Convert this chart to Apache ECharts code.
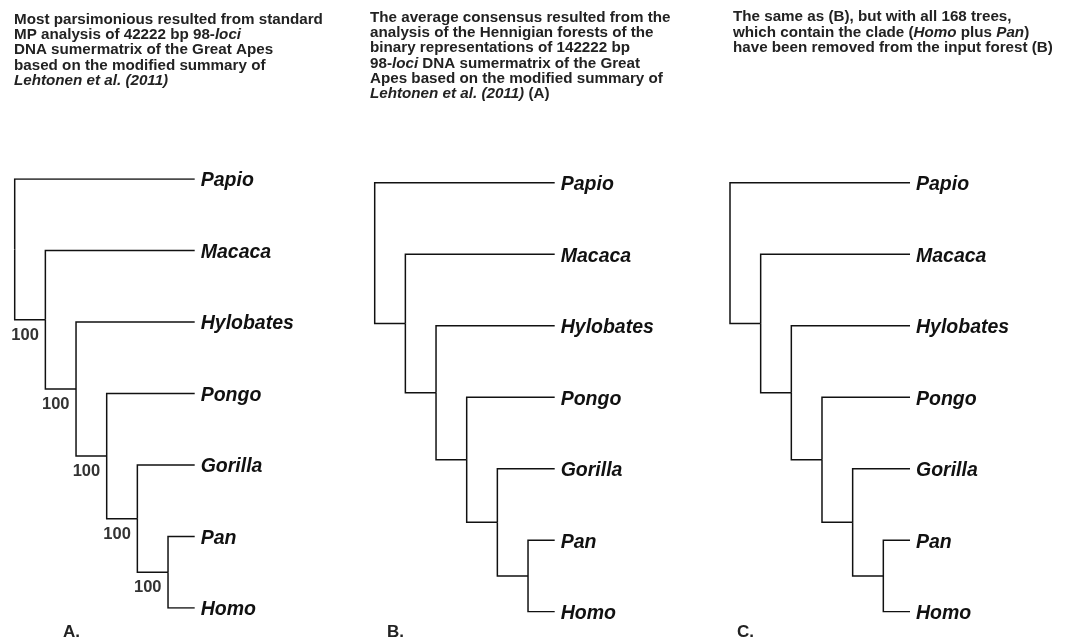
<!DOCTYPE html>
<html><head><meta charset="utf-8">
<script src="https://cdn.jsdelivr.net/npm/echarts@6/dist/echarts.min.js"></script>
<style>html,body{margin:0;padding:0;background:#fff}#c{width:1070px;height:641px}</style>
</head><body><div id="c"></div>
<script>
// ---- data ----
const taxa = ['Papio','Macaca','Hylobates','Pongo','Gorilla','Pan','Homo'];
// tree topologies (nested clades), identical for the three panels
const topologyA = ['Papio',['Macaca',['Hylobates',['Pongo',['Gorilla',['Pan','Homo']]]]]];
const topologyB = ['Papio',['Macaca',['Hylobates',['Pongo',['Gorilla',['Pan','Homo']]]]]];
const topologyC = ['Papio',['Macaca',['Hylobates',['Pongo',['Gorilla',['Pan','Homo']]]]]];
// support values for internal nodes in preorder (root first); null = not shown
const supportA = [null, 100, 100, 100, 100, 100];
const supportB = [null, null, null, null, null, null];
const supportC = [null, null, null, null, null, null];
const panelLabels = ['A.', 'B.', 'C.'];
const titleA = [
  'Most parsimonious resulted from standard',
  'MP analysis of 42222 bp 98-{i|loci}',
  'DNA sumermatrix of the Great Apes',
  'based on the modified summary of',
  '{i|Lehtonen et al. (2011)}'
];
const titleB = [
  'The average consensus resulted from the',
  'analysis of the Hennigian forests of the',
  'binary representations of 142222 bp',
  '98-{i|loci} DNA sumermatrix of the Great',
  'Apes based on the modified summary of',
  '{i|Lehtonen et al. (2011)} (A)'
];
const titleC = [
  'The same as (B), but with all 168 trees,',
  'which contain the clade ({i|Homo} plus {i|Pan})',
  'have been removed from the input forest (B)'
];

// ---- layout (cladogram: depth on x, leaf order on y) ----
const TIP_X = 5.87;
function layout(topo, support) {
  const leaves = [], internals = [], edges = [];
  let leafIdx = 0, nodeIdx = 0;
  function walk(n, depth) {
    if (typeof n === 'string') {
      const p = { x: TIP_X, y: leafIdx++, name: n };
      leaves.push(p);
      return p;
    }
    const me = { x: depth, y: 0, support: support[nodeIdx++] };
    internals.push(me);
    const kids = n.map(c => walk(c, depth + 1));
    me.y = (kids[0].y + kids[kids.length - 1].y) / 2;
    kids.forEach(k => edges.push({ coords: [[me.x, me.y], [me.x, k.y], [k.x, k.y]] }));
    return me;
  }
  walk(topo, 0);
  return { leaves, internals, edges };
}

const trees = [
  { topo: topologyA, support: supportA, title: titleA, left: 14.7, top: 179, tleft: 14, ttop: 12 },
  { topo: topologyB, support: supportB, title: titleB, left: 374.7, top: 182.7, tleft: 370, ttop: 10 },
  { topo: topologyC, support: supportC, title: titleC, left: 730, top: 182.7, tleft: 733, ttop: 9.5 }
];
const panelX = [63, 387, 737];

const FONT = '"Liberation Sans", Arial, sans-serif';
const grid = [], xAxis = [], yAxis = [], series = [], title = [], graphic = [];
trees.forEach((t, i) => {
  const L = layout(t.topo, t.support);
  grid.push({ left: t.left, top: t.top, width: 180, height: 6 * 71.5 });
  xAxis.push({ gridIndex: i, type: 'value', min: 0, max: TIP_X, show: false });
  yAxis.push({ gridIndex: i, type: 'value', min: 0, max: taxa.length - 1, inverse: true, show: false });
  series.push({
    type: 'lines', coordinateSystem: 'cartesian2d', xAxisIndex: i, yAxisIndex: i,
    polyline: true, silent: true, animation: false,
    lineStyle: { color: '#111', width: 1.5, opacity: 1 },
    data: L.edges
  });
  series.push({
    type: 'scatter', xAxisIndex: i, yAxisIndex: i, symbolSize: 0, silent: true, animation: false,
    itemStyle: { opacity: 1 },
    data: L.leaves.map(p => [p.x, p.y, p.name]),
    label: {
      show: true, position: 'right', distance: 6, offset: [0, 2], opacity: 1,
      formatter: p => p.data[2],
      fontFamily: FONT, fontSize: 19.5, fontWeight: 'bold', fontStyle: 'italic', color: '#111'
    }
  });
  series.push({
    type: 'scatter', xAxisIndex: i, yAxisIndex: i, symbolSize: 0, silent: true, animation: false,
    itemStyle: { opacity: 1 },
    data: L.internals.filter(p => p.support != null).map(p => [p.x, p.y, p.support]),
    label: {
      show: true, position: [-6.5, 7], align: 'right', verticalAlign: 'top', opacity: 1,
      formatter: p => String(p.data[2]),
      fontFamily: FONT, fontSize: 16.5, fontWeight: 'bold', color: '#333'
    }
  });
  title.push({
    text: t.title.join('\n'), left: t.tleft, top: t.ttop, padding: 0,
    textStyle: {
      fontFamily: FONT, fontSize: 15.2, fontWeight: 'bold', lineHeight: 15.3, color: '#222',
      rich: { i: { fontFamily: FONT, fontSize: 15.2, fontWeight: 'bold', fontStyle: 'italic', lineHeight: 15.3, color: '#222' } }
    }
  });
  graphic.push({
    type: 'text', left: panelX[i], top: 624,
    style: { text: panelLabels[i], font: 'bold 17px ' + FONT, fill: '#222' }
  });
});

const chart = echarts.init(document.getElementById('c'), null, { renderer: 'canvas' });
chart.setOption({ animation: false, backgroundColor: '#fff', title, grid, xAxis, yAxis, series, graphic });
</script></body></html>
